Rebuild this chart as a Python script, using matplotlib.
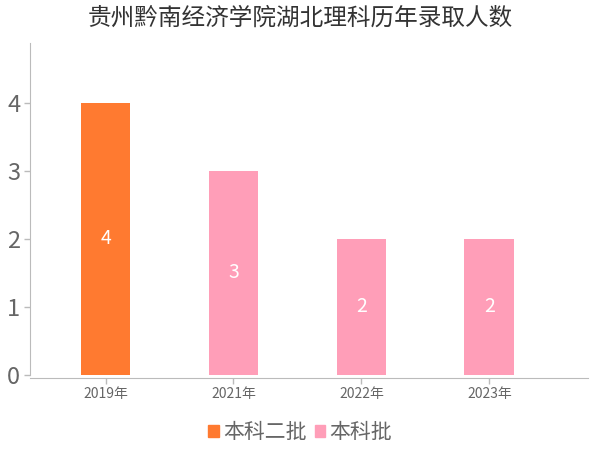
import matplotlib
matplotlib.use("Agg")
import matplotlib.pyplot as plt
from matplotlib.patches import Patch

plt.rcParams['font.family'] = ['Noto Sans CJK SC', 'DejaVu Sans']

years = ["2019年", "2021年", "2022年", "2023年"]
counts = [4, 3, 2, 2]
batches = ["本科二批", "本科批", "本科批", "本科批"]
batch_colors = {"本科二批": "#FF7A30", "本科批": "#FF9EB8"}

gray = "#666666"
line_gray = "#BBBBBB"

fig = plt.figure(figsize=(6, 4.5), dpi=100)
ax = fig.add_axes([0.05, 0.167, 0.93, 0.737])

x = list(range(len(years)))
colors = [batch_colors[b] for b in batches]
bars = ax.bar(x, counts, width=0.39, color=colors)

for xi, c in zip(x, counts):
    ax.text(xi, c / 2, str(c), ha="center", va="center", color="white", fontsize=14)

ax.set_xlim(-0.59, 3.77)
ax.set_ylim(0, 4.88)
ax.set_xticks(x)
ax.set_xticklabels(years, fontsize=11, color=gray)
ax.set_yticks([0, 1, 2, 3, 4])
ax.tick_params(axis="y", labelsize=17, colors=gray, length=4, width=1, color=line_gray, pad=3)
ax.tick_params(axis="x", colors=gray, length=4, width=1, color=line_gray, pad=3)
for lab in ax.get_yticklabels():
    lab.set_color(gray)

ax.spines["top"].set_visible(False)
ax.spines["right"].set_visible(False)
ax.spines["left"].set_color(line_gray)
ax.spines["bottom"].set_color(line_gray)
ax.spines["bottom"].set_position(("outward", 2))

fig.suptitle("贵州黔南经济学院湖北理科历年录取人数", fontsize=17, color="#333333", y=0.985)

handles = [Patch(color=batch_colors[k]) for k in batch_colors]
fig.legend(handles, list(batch_colors.keys()), loc="center", bbox_to_anchor=(0.5, 0.04),
           ncol=2, frameon=False, fontsize=15, handlelength=0.5, handleheight=0.5,
           handletextpad=0.2, columnspacing=0.4, labelcolor=gray)

fig.savefig("out.png", dpi=100)
